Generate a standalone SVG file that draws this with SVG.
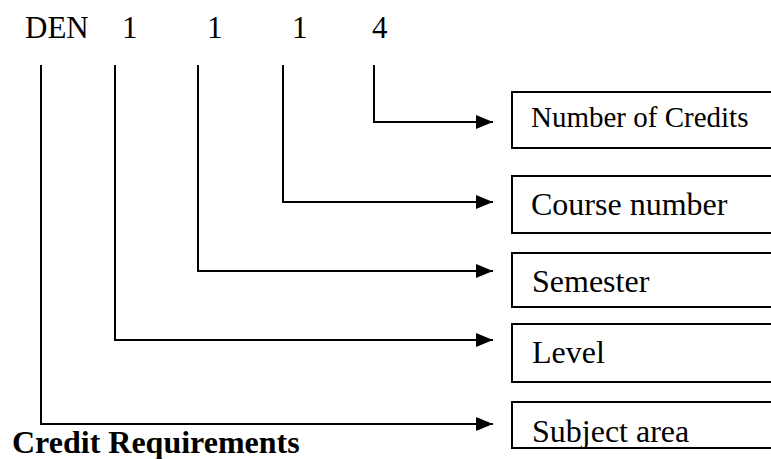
<svg xmlns="http://www.w3.org/2000/svg" width="771" height="459" viewBox="0 0 771 459">
<style>
text{font-family:"Liberation Serif","Times New Roman",serif;fill:#000}
.t{font-size:31px}
.m{font-size:32px}
.s{font-size:29px}
.b{font-size:32px;font-weight:bold}
.box{fill:#fff;stroke:#000;stroke-width:2}
.c{fill:none;stroke:#000;stroke-width:2}
</style>
<defs>
<marker id="ah" markerWidth="18" markerHeight="14" refX="17" refY="7" orient="auto" markerUnits="userSpaceOnUse">
<path d="M0,0 L17,7 L0,14 Z" fill="#000"/>
</marker>
</defs>
<rect width="771" height="459" fill="#fff"/>
<g id="code">
<text class="t" x="25" y="38">DEN</text>
<text class="t" x="122" y="38">1</text>
<text class="t" x="207" y="38">1</text>
<text class="t" x="292" y="38">1</text>
<text class="t" x="372" y="38">4</text>
</g>
<g id="connectors">
<path class="c" d="M374,65 V122 H493" marker-end="url(#ah)"/>
<path class="c" d="M283,65 V202 H493" marker-end="url(#ah)"/>
<path class="c" d="M198,65 V271 H493" marker-end="url(#ah)"/>
<path class="c" d="M115,65 V340 H493" marker-end="url(#ah)"/>
<path class="c" d="M41,65 V424 H493" marker-end="url(#ah)"/>
</g>
<g id="credits">
<rect class="box" x="512" y="92" width="270" height="56"/>
<text class="s" x="531" y="127">Number of Credits</text>
</g>
<g id="course">
<rect class="box" x="512" y="176" width="270" height="57"/>
<text class="m" x="531" y="215">Course number</text>
</g>
<g id="semester">
<rect class="box" x="512" y="253" width="270" height="54"/>
<text class="m" x="532" y="292">Semester</text>
</g>
<g id="level">
<rect class="box" x="512" y="324" width="270" height="58"/>
<text class="m" x="532" y="363">Level</text>
</g>
<g id="subject">
<rect class="box" x="512" y="402" width="270" height="46"/>
<text class="m" x="532" y="442">Subject area</text>
</g>
<g id="title">
<text class="b" x="12" y="453">Credit Requirements</text>
</g>
</svg>
